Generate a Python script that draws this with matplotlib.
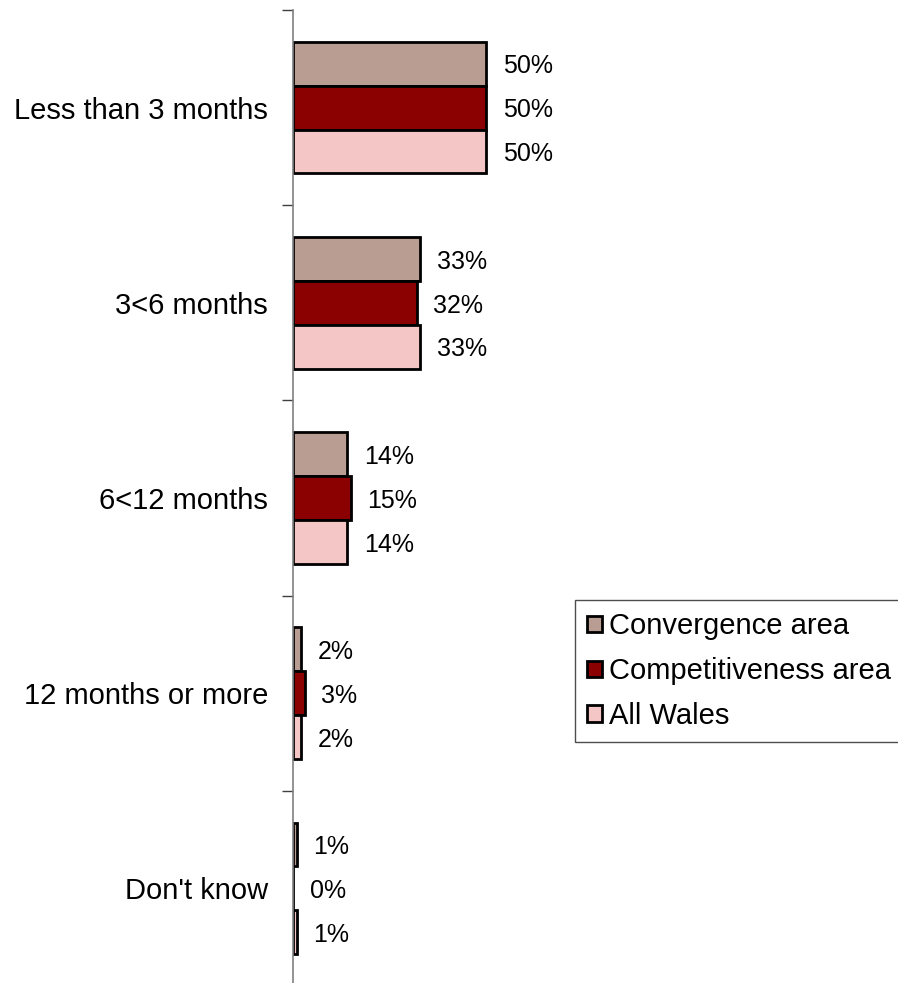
import matplotlib.pyplot as plt
import numpy as np

plt.rcParams['font.family'] = ['Liberation Sans', 'DejaVu Sans']

# dati
categorie = ["Less than 3 months", "3<6 months", "6<12 months", "12 months or more", "Don't know"]
serie = ["Convergence area", "Competitiveness area", "All Wales"]
convergence = [50, 33, 14, 2, 1]
competitiveness = [50, 32, 15, 3, 0]
all_wales = [50, 33, 14, 2, 1]
colori = ['#B99C92', '#8B0000', '#F5C6C6']

W, H = 898, 983
fig = plt.figure(figsize=(W / 100, H / 100), dpi=100)
ax = fig.add_axes([293 / W, 1 - 986 / H, (880 - 293) / W, 976 / H])

y = np.arange(len(categorie))
h = 0.225
valori = [convergence, competitiveness, all_wales]
for i, (nome, vals, col) in enumerate(zip(serie, valori, colori)):
    pos = y + (i - 1) * h
    ax.barh(pos, vals, height=h, color=col, edgecolor='black', linewidth=2.0, label=nome)
    for p, v in zip(pos, vals):
        ax.annotate(f"{v}%", (v, p), xytext=(12, -2), textcoords='offset points',
                    ha='left', va='center', fontsize=18)

ax.set_xlim(0, 587 / 3.86)
ax.set_ylim(len(categorie) - 0.5, -0.5)

# assi
for s in ['top', 'right', 'bottom']:
    ax.spines[s].set_visible(False)
ax.spines['left'].set_color('#808080')
ax.spines['left'].set_linewidth(1.2)
ax.set_xticks([])
ax.set_yticks(np.arange(len(categorie) + 1) - 0.5)
ax.set_yticklabels([])
ax.tick_params(axis='y', which='major', length=8, width=1, color='#404040')
ax.set_yticks(y, minor=True)
ax.set_yticklabels(categorie, minor=True, fontsize=21)
ax.tick_params(axis='y', which='minor', length=0, pad=18)

leg = fig.legend(loc='upper left', bbox_to_anchor=(575 / W, 1 - 600 / H), fontsize=21,
                 frameon=True, fancybox=False, handlelength=0.5, handleheight=0.5,
                 handletextpad=0.25, labelspacing=0.58, borderpad=0.42, borderaxespad=0)
leg.get_frame().set_edgecolor('#202020')
leg.get_frame().set_linewidth(1.0)

fig.savefig('out.png', dpi=100)
